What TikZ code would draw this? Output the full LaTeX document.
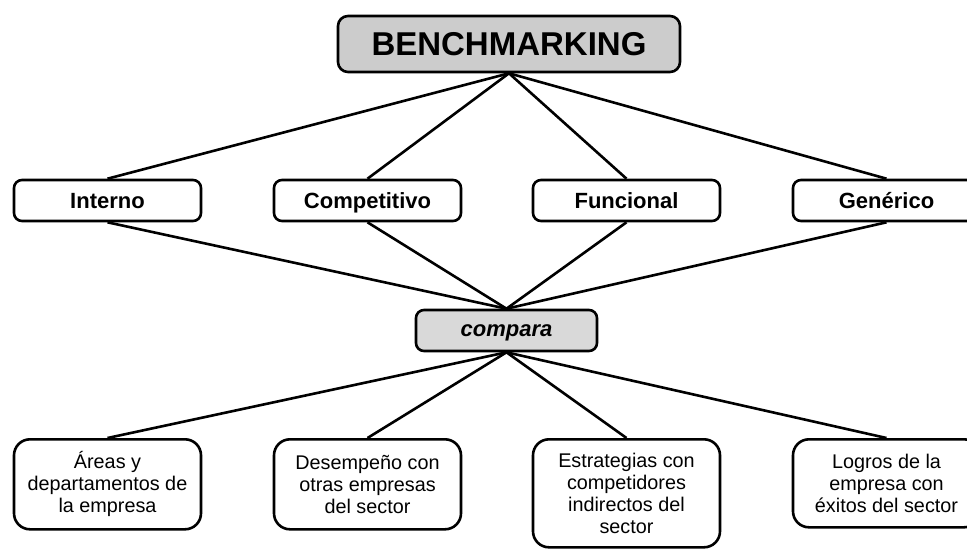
\documentclass[tikz,border=0pt]{standalone}
\usepackage{fontspec}
\setmainfont{Liberation Sans}
\begin{document}
\begin{tikzpicture}[x=1pt,y=-1pt,
  box/.style={draw, line width=2.6pt, rounded corners=8pt, inner sep=0pt},
  head/.style={box, fill=gray!40, minimum width=342pt, minimum height=56pt, rounded corners=10pt,
    text height=23.6pt, text depth=0pt, font=\fontsize{33}{38}\selectfont\bfseries},
  kind/.style={box, fill=white, minimum width=187pt, minimum height=41pt,
    text height=15.75pt, text depth=0pt, font=\fontsize{22}{26}\selectfont\bfseries},
  verb/.style={box, fill=gray!30, minimum width=181pt, minimum height=41pt,
    text height=11.5pt, text depth=0pt, font=\fontsize{22}{26}\selectfont\bfseries\itshape},
  item/.style={box, align=center, fill=white, rounded corners=16pt, minimum width=187pt, anchor=north,
    font=\fontsize{19.8}{22}\selectfont},
  link/.style={line width=2.6pt}]
\clip (0,0) rectangle (967,550);

% root
\node[head] (root) at (509,44) {BENCHMARKING};

% kinds of benchmarking
\node[kind] (int) at (107.5,200.5) {Interno};
\node[kind] (com) at (367.5,200.5) {Competitivo};
\node[kind] (fun) at (626.5,200.5) {Funcional};
\node[kind] (gen) at (886.5,200.5) {Genérico};

% linking verb
\node[verb] (cmp) at (506.5,330.5) {compara};

% what is compared
\node[item, minimum height=90pt] (a) at (107.5,438) {Áreas y\\departamentos de\\la empresa};
\node[item, minimum height=90pt] (b) at (367.5,438) {Desempeño con\\otras empresas\\del sector};
\node[item, minimum height=108pt] (c) at (626.5,438) {Estrategias con\\competidores\\indirectos del\\sector};
\node[item, minimum height=88pt] (d) at (886.5,438) {Logros de la\\empresa con\\éxitos del sector};

% connectors
\foreach \k in {int,com,fun,gen}{
  \draw[link] (root.south) -- (\k.north);
  \draw[link] (\k.south) -- (cmp.north);
}
\foreach \k in {a,b,c,d}{
  \draw[link] (cmp.south) -- (\k.north);
}
\end{tikzpicture}
\end{document}
